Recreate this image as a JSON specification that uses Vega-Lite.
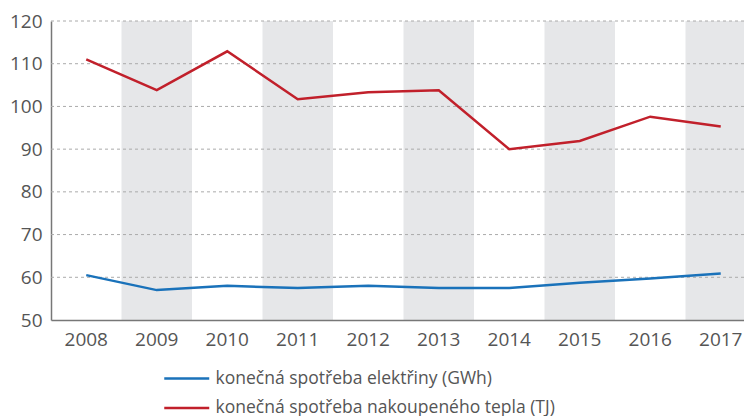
{
  "$schema": "https://vega.github.io/schema/vega-lite/v6.json",
  "width": 705,
  "height": 299,
  "autosize": {"type": "none"},
  "padding": {"left": 51, "top": 21, "right": -12, "bottom": 96},
  "config": {
    "view": {"stroke": null},
    "font": "Open Sans",
    "axis": {"labelFont": "Open Sans", "labelFontSize": 19, "labelColor": "#555555", "ticks": false, "domainColor": "#777777", "domainWidth": 1.5, "title": null, "grid": false},
    "axisX": {"labelPadding": 10, "labelAngle": 0},
    "axisY": {"labelPadding": 9}
  },
  "datasets": {
    "bands": [{"year": "2009"}, {"year": "2011"}, {"year": "2013"}, {"year": "2015"}, {"year": "2017"}],
    "grid": [{"g": 60}, {"g": 70}, {"g": 80}, {"g": 90}, {"g": 100}, {"g": 110}, {"g": 120}],
    "series": [
      {"year": "2008", "s": "konečná spotřeba elektřiny (GWh)", "v": 60.5},
      {"year": "2009", "s": "konečná spotřeba elektřiny (GWh)", "v": 57.0},
      {"year": "2010", "s": "konečná spotřeba elektřiny (GWh)", "v": 58.0},
      {"year": "2011", "s": "konečná spotřeba elektřiny (GWh)", "v": 57.5},
      {"year": "2012", "s": "konečná spotřeba elektřiny (GWh)", "v": 58.0},
      {"year": "2013", "s": "konečná spotřeba elektřiny (GWh)", "v": 57.5},
      {"year": "2014", "s": "konečná spotřeba elektřiny (GWh)", "v": 57.5},
      {"year": "2015", "s": "konečná spotřeba elektřiny (GWh)", "v": 58.7},
      {"year": "2016", "s": "konečná spotřeba elektřiny (GWh)", "v": 59.7},
      {"year": "2017", "s": "konečná spotřeba elektřiny (GWh)", "v": 60.9},
      {"year": "2008", "s": "konečná spotřeba nakoupeného tepla (TJ)", "v": 111.0},
      {"year": "2009", "s": "konečná spotřeba nakoupeného tepla (TJ)", "v": 103.8},
      {"year": "2010", "s": "konečná spotřeba nakoupeného tepla (TJ)", "v": 112.9},
      {"year": "2011", "s": "konečná spotřeba nakoupeného tepla (TJ)", "v": 101.7},
      {"year": "2012", "s": "konečná spotřeba nakoupeného tepla (TJ)", "v": 103.3},
      {"year": "2013", "s": "konečná spotřeba nakoupeného tepla (TJ)", "v": 103.8},
      {"year": "2014", "s": "konečná spotřeba nakoupeného tepla (TJ)", "v": 90.0},
      {"year": "2015", "s": "konečná spotřeba nakoupeného tepla (TJ)", "v": 91.9},
      {"year": "2016", "s": "konečná spotřeba nakoupeného tepla (TJ)", "v": 97.6},
      {"year": "2017", "s": "konečná spotřeba nakoupeného tepla (TJ)", "v": 95.3}
    ]
  },
  "layer": [
    {
      "data": {"name": "bands"},
      "mark": {"type": "rect", "color": "#e6e7e9"},
      "encoding": {
        "x": {"field": "year", "type": "ordinal"},
        "y": {"datum": 50, "type": "quantitative"},
        "y2": {"datum": 120}
      }
    },
    {
      "data": {"name": "grid"},
      "mark": {"type": "rule", "color": "#aaaaaa", "strokeDash": [3, 3], "strokeWidth": 1},
      "encoding": {
        "y": {"field": "g", "type": "quantitative"}
      }
    },
    {
      "data": {"name": "series"},
      "mark": {"type": "line", "strokeWidth": 2.5, "strokeJoin": "miter"},
      "encoding": {
        "x": {
          "field": "year", "type": "ordinal",
          "scale": {"domain": ["2008","2009","2010","2011","2012","2013","2014","2015","2016","2017"], "paddingInner": 0, "paddingOuter": 0},
          "axis": {"title": null}
        },
        "y": {
          "field": "v", "type": "quantitative",
          "scale": {"domain": [50, 120], "nice": false, "zero": false},
          "axis": {"title": null, "values": [50,60,70,80,90,100,110,120]}
        },
        "color": {
          "field": "s", "type": "nominal",
          "scale": {"domain": ["konečná spotřeba elektřiny (GWh)", "konečná spotřeba nakoupeného tepla (TJ)"], "range": ["#1a72ba", "#c1202b"]},
          "legend": {
            "title": null, "orient": "none", "legendX": 112, "legendY": 345, "direction": "vertical",
            "symbolType": "M-1,0H3", "symbolSize": 506, "symbolStrokeWidth": 2.5,
            "labelFontSize": 17.5, "labelColor": "#555555", "labelFont": "Open Sans", "labelLimit": 0,
            "rowPadding": 8.5, "labelOffset": 27.5, "padding": 0
          }
        }
      }
    }
  ]
}
